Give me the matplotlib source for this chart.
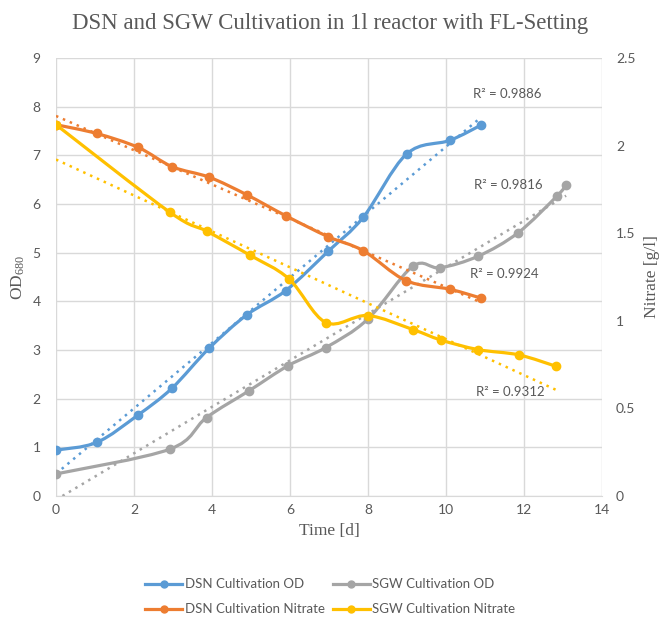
import numpy as np
import matplotlib
matplotlib.use('Agg')
import matplotlib.pyplot as plt
from matplotlib.path import Path
from matplotlib.patches import PathPatch
from matplotlib.lines import Line2D

plt.rcParams['mathtext.fontset'] = 'custom'
plt.rcParams['mathtext.rm'] = 'Liberation Serif'
plt.rcParams['mathtext.default'] = 'rm'

# data
dsn_od_t = [0, 1.05, 2.1, 2.97, 3.92, 4.89, 5.89, 6.98, 7.88, 8.99, 10.1, 10.89]
dsn_od = [0.94, 1.10, 1.66, 2.21, 3.03, 3.72, 4.22, 5.03, 5.73, 7.03, 7.31, 7.62]

sgw_od_t = [0, 2.92, 3.86, 4.95, 5.96, 6.92, 7.99, 9.15, 9.85, 10.83, 11.85, 12.84, 13.08]
sgw_od = [0.45, 0.96, 1.61, 2.16, 2.68, 3.05, 3.63, 4.72, 4.69, 4.93, 5.41, 6.16, 6.39]

dsn_no3_t = [0, 1.04, 2.11, 2.98, 3.93, 4.89, 5.89, 6.98, 7.88, 8.97, 10.1, 10.89]
dsn_no3 = [2.12, 2.07, 1.99, 1.88, 1.82, 1.72, 1.60, 1.48, 1.40, 1.23, 1.18, 1.13]

sgw_no3_t = [0, 2.92, 3.88, 4.97, 5.97, 6.92, 7.99, 9.15, 9.87, 10.83, 11.87, 12.82]
sgw_no3 = [2.12, 1.62, 1.51, 1.375, 1.24, 0.99, 1.03, 0.95, 0.89, 0.835, 0.805, 0.74]

r2_labels = ['R² = 0.9886', 'R² = 0.9816', 'R² = 0.9924', 'R² = 0.9312']

BLUE, ORANGE, GRAY, YELLOW = '#5B9BD5', '#ED7D31', '#A5A5A5', '#FFC000'
TXT = '#595959'
SANS = 'Lato'
SERIF = 'Liberation Serif'


def smooth_line(ax, x, y, color):
    # Excel-style smoothed line through the points (cubic bezier segments)
    p = np.column_stack([x, y]).astype(float)
    n = len(p)
    verts = [p[0]]
    codes = [Path.MOVETO]
    for i in range(n - 1):
        p0 = p[i - 1] if i > 0 else p[i]
        p3 = p[i + 2] if i + 2 < n else p[i + 1]
        c1 = p[i] + (p[i + 1] - p0) / 6
        c2 = p[i + 1] - (p3 - p[i]) / 6
        verts += [c1, c2, p[i + 1]]
        codes += [Path.CURVE4] * 3
    ax.add_patch(PathPatch(Path(verts, codes), fill=False, edgecolor=color,
                           lw=2.3, capstyle='round', joinstyle='round', zorder=3))
    ax.plot(x, y, 'o', color=color, ms=6, zorder=4)


def trend(ax, x, y, color):
    k, d = np.polyfit(x, y, 1)
    xs = np.array([min(x), max(x)])
    ax.plot(xs, k * xs + d, ls=(0, (1, 2)), color=color, lw=1.8, zorder=2)


fig = plt.figure(figsize=(6.61, 6.19), dpi=100)
ax = fig.add_axes([0.0847, 0.199, 0.826, 0.707])
ax2 = ax.twinx()

trend(ax, dsn_od_t, dsn_od, BLUE)
trend(ax, sgw_od_t, sgw_od, GRAY)
smooth_line(ax, dsn_od_t, dsn_od, BLUE)
smooth_line(ax, sgw_od_t, sgw_od, GRAY)
trend(ax2, dsn_no3_t, dsn_no3, ORANGE)
trend(ax2, sgw_no3_t, sgw_no3, YELLOW)
smooth_line(ax2, dsn_no3_t, dsn_no3, ORANGE)
smooth_line(ax2, sgw_no3_t, sgw_no3, YELLOW)

ax.set_xlim(0, 14)
ax.set_ylim(0, 9)
ax2.set_ylim(0, 2.5)
ax.set_xticks(range(0, 15, 2))
ax.set_yticks(range(0, 10))
ax2.set_yticks([0, 0.5, 1, 1.5, 2, 2.5])
ax2.set_yticklabels(['0', '0.5', '1', '1.5', '2', '2.5'])
ax.grid(True, color='#d9d9d9', lw=1)
ax.set_axisbelow(True)
for a in (ax, ax2):
    for s in a.spines.values():
        s.set_visible(False)
    a.tick_params(length=0, labelsize=10, labelcolor=TXT)
    for lab in a.get_xticklabels() + a.get_yticklabels():
        lab.set_family(SANS)
ax.tick_params(axis='y', pad=11)
ax.tick_params(axis='x', pad=6)
ax2.tick_params(axis='y', pad=10)
ax.spines['bottom'].set_visible(True)
ax.spines['bottom'].set_color('#d9d9d9')

ax.set_xlabel('Time [d]', family=SERIF, fontsize=12.5, color=TXT, labelpad=5)
ax.set_ylabel('OD$_{680}$', family=SERIF, fontsize=12.5, color=TXT, labelpad=4)
ax2.set_ylabel('Nitrate [g/l]', family=SERIF, fontsize=12.5, color=TXT, labelpad=6)

# R² labels of the linear trendlines
for (tx, ty), lab in zip([(11.56, 8.27), (11.6, 6.4), (11.5, 4.56), (11.64, 2.14)], r2_labels):
    ax.text(tx, ty, lab, ha='center', va='center', family=SANS, fontsize=9.5, color=TXT, zorder=5)

fig.suptitle('DSN and SGW Cultivation in 1l reactor with FL-Setting',
             family=SERIF, fontsize=16.5, color=TXT, y=0.962, va='center')

handles = [
    Line2D([], [], color=BLUE, lw=2.3, marker='o', ms=5),
    Line2D([], [], color=ORANGE, lw=2.3, marker='o', ms=5),
    Line2D([], [], color=GRAY, lw=2.3, marker='o', ms=5),
    Line2D([], [], color=YELLOW, lw=2.3, marker='o', ms=5),
]
labels = ['DSN Cultivation OD', 'DSN Cultivation Nitrate',
          'SGW Cultivation OD', 'SGW Cultivation Nitrate']
leg = fig.legend(handles, labels, loc='center', bbox_to_anchor=(0.5, 0.036), ncol=2,
                 frameon=False, handlelength=2.8, handletextpad=0.2, columnspacing=0.6,
                 labelspacing=1.0, prop={'family': SANS, 'size': 9.5})
for t in leg.get_texts():
    t.set_color(TXT)

fig.savefig('out.png', dpi=100)
